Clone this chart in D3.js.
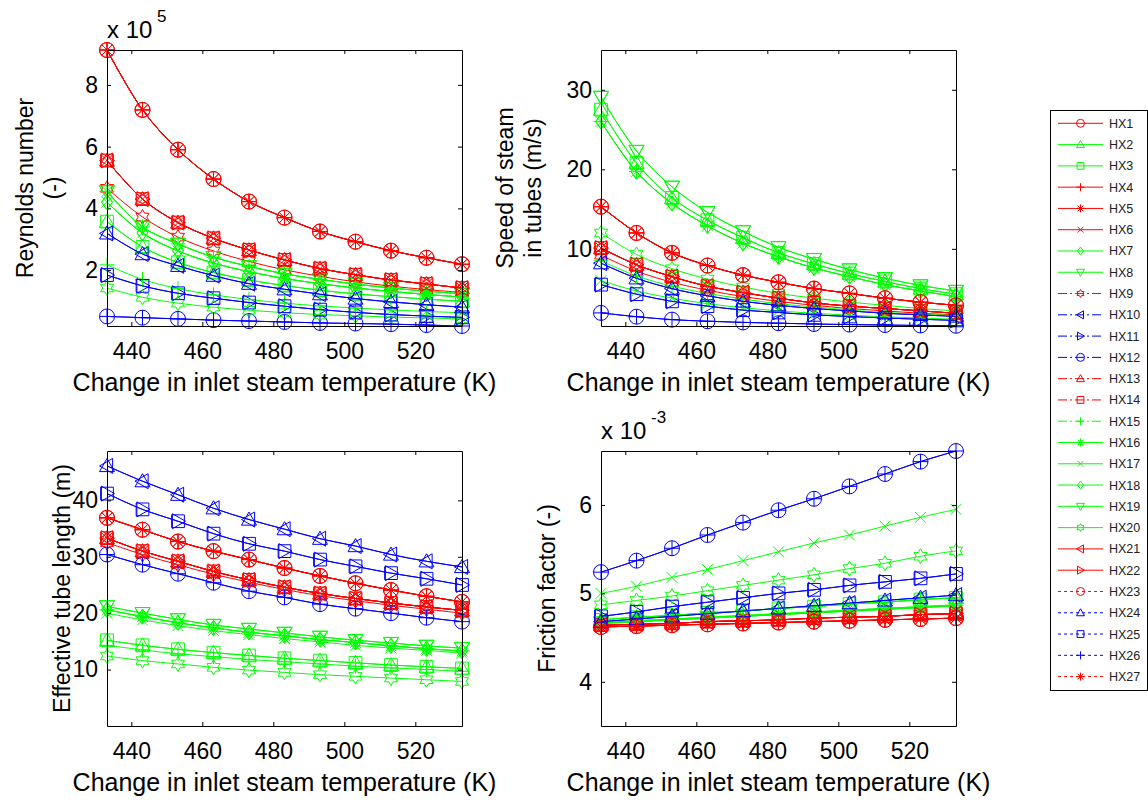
<!DOCTYPE html>
<html>
<head>
<meta charset="utf-8">
<script src="https://cdn.jsdelivr.net/npm/d3@7/dist/d3.min.js"></script>
<style>
  body { margin: 0; background: #fff; }
  svg { font-family: Arial, "Liberation Sans", Helvetica, sans-serif; }
</style>
</head>
<body>
<div id="main"></div>
<script>
// inlet steam temperature (K)
const temps = [433.15, 443.15, 453.15, 463.15, 473.15, 483.15, 493.15, 503.15, 513.15, 523.15, 533.15];
const xTicks = [440, 460, 480, 500, 520];
const names = ['HX1', 'HX2', 'HX3', 'HX4', 'HX5', 'HX6', 'HX7', 'HX8', 'HX9', 'HX10', 'HX11', 'HX12', 'HX13', 'HX14',
    'HX15', 'HX16', 'HX17', 'HX18', 'HX19', 'HX20', 'HX21', 'HX22', 'HX23', 'HX24', 'HX25', 'HX26', 'HX27'];

// Reynolds number (x 10^5)
const reR1 = [9.13, 7.19, 5.90, 4.95, 4.22, 3.70, 3.25, 2.92, 2.63, 2.40, 2.19];
const reR2 = [5.55, 4.30, 3.54, 3.03, 2.65, 2.33, 2.05, 1.85, 1.68, 1.55, 1.42];
const reR3 = [4.65, 3.72, 3.07, 2.62, 2.28, 2.01, 1.80, 1.62, 1.48, 1.37, 1.28];
const reG1 = [4.55, 3.40, 2.85, 2.42, 2.12, 1.88, 1.70, 1.55, 1.42, 1.32, 1.23];
const reG2 = [4.20, 3.20, 2.62, 2.23, 1.95, 1.73, 1.56, 1.42, 1.31, 1.21, 1.13];
const reG3 = [3.57, 2.75, 2.25, 1.92, 1.68, 1.50, 1.35, 1.23, 1.14, 1.06, 0.99];
const reG4 = [2.17, 1.70, 1.40, 1.20, 1.05, 0.93, 0.84, 0.77, 0.71, 0.66, 0.62];
const reG5 = [1.42, 1.12, 0.93, 0.80, 0.70, 0.62, 0.56, 0.52, 0.48, 0.45, 0.42];
const reB1 = [3.19, 2.52, 2.14, 1.82, 1.56, 1.38, 1.22, 1.08, 0.97, 0.88, 0.80];
const reB2 = [1.84, 1.49, 1.25, 1.09, 0.95, 0.83, 0.72, 0.63, 0.56, 0.51, 0.47];
const reB3 = [0.50, 0.46, 0.42, 0.38, 0.35, 0.32, 0.29, 0.27, 0.25, 0.22, 0.19];
const reynoldsBySeries = [reR1, reG3, reG3, reR1, reR1, reR2, reG2, reG1, reR3, reB1, reB2, reB3, reR2, reR2,
    reG4, reG1, reG2, reG2, reG1, reG5, reR2, reR2, reR1, reB1, reB2, reB3, reR1];
const reynoldsTicks = [2, 4, 6, 8];

// speed of steam in tubes (m/s)
const spR1 = [15.3, 12.0, 9.5, 7.9, 6.7, 5.8, 5.0, 4.4, 3.8, 3.3, 2.9];
const spR2 = [10.1, 8.0, 6.5, 5.3, 4.5, 3.8, 3.2, 2.8, 2.5, 2.2, 1.9];
const spR3 = [9.2, 7.2, 5.8, 4.8, 4.0, 3.4, 2.9, 2.5, 2.2, 1.9, 1.7];
const spG1 = [29.1, 22.3, 17.8, 14.6, 12.2, 10.2, 8.7, 7.4, 6.3, 5.4, 4.7];
const spG2 = [27.5, 20.8, 16.4, 13.6, 11.4, 9.5, 8.1, 6.9, 5.9, 5.0, 4.3];
const spG3 = [26.0, 19.7, 15.7, 12.9, 10.7, 9.0, 7.6, 6.5, 5.5, 4.7, 4.0];
const spG4 = [12.0, 9.3, 7.5, 6.2, 5.2, 4.4, 3.8, 3.3, 2.9, 2.5, 2.2];
const spG5 = [8.5, 6.6, 5.3, 4.4, 3.7, 3.1, 2.7, 2.3, 2.0, 1.8, 1.6];
const spG6 = [6.0, 4.7, 3.8, 3.1, 2.6, 2.2, 1.9, 1.65, 1.45, 1.3, 1.15];
const spB1 = [8.2, 6.3, 5.0, 4.1, 3.4, 2.9, 2.5, 2.2, 1.9, 1.7, 1.5];
const spB2 = [5.5, 4.3, 3.4, 2.8, 2.3, 2.0, 1.7, 1.5, 1.3, 1.15, 1.0];
const spB3 = [1.95, 1.47, 1.1, 0.9, 0.75, 0.65, 0.55, 0.48, 0.42, 0.37, 0.33];
const speedBySeries = [spR1, spG2, spG2, spR1, spR1, spR2, spG3, spG1, spR3, spB1, spB2, spB3, spR2, spR2,
    spG5, spG3, spG6, spG3, spG1, spG4, spR2, spR2, spR1, spB1, spB2, spB3, spR1];
const speedTicks = [10, 20, 30];

// effective tube length (m)
const tlR1 = [36.9, 34.8, 32.7, 31.0, 29.5, 28.0, 26.6, 25.3, 24.1, 23.0, 22.0];
const tlR2 = [33.3, 31.0, 29.2, 27.4, 25.9, 24.6, 23.5, 22.6, 21.8, 21.1, 20.5];
const tlR3 = [32.5, 30.4, 28.6, 26.9, 25.5, 24.2, 23.1, 22.2, 21.4, 20.7, 20.0];
const tlG1 = [21.2, 20.0, 18.9, 17.9, 17.2, 16.5, 15.8, 15.2, 14.7, 14.2, 13.8];
const tlG2 = [20.6, 19.4, 18.3, 17.4, 16.6, 16.0, 15.3, 14.8, 14.2, 13.7, 13.3];
const tlG3 = [20.0, 18.8, 17.8, 16.9, 16.2, 15.5, 14.9, 14.3, 13.8, 13.4, 12.9];
const tlG4 = [15.2, 14.3, 13.6, 13.0, 12.5, 12.0, 11.6, 11.2, 10.8, 10.5, 10.2];
const tlG5 = [14.3, 13.5, 12.8, 12.3, 11.8, 11.4, 11.0, 10.6, 10.3, 10.0, 9.7];
const tlG6 = [12.4, 11.6, 11.0, 10.4, 9.9, 9.5, 9.1, 8.8, 8.5, 8.2, 7.9];
const tlB1 = [46.1, 43.4, 41.0, 38.6, 36.6, 34.9, 33.2, 31.9, 30.4, 29.2, 28.2];
const tlB2 = [41.2, 38.4, 36.3, 34.1, 32.3, 31.0, 29.5, 28.3, 27.1, 26.1, 25.0];
const tlB3 = [30.4, 28.6, 27.0, 25.4, 23.9, 22.8, 21.6, 20.8, 20.0, 19.2, 18.5];
const lengthBySeries = [tlR1, tlG4, tlG4, tlR1, tlR1, tlR2, tlG2, tlG1, tlR3, tlB1, tlB2, tlB3, tlR2, tlR2,
    tlG5, tlG2, tlG3, tlG2, tlG1, tlG6, tlR2, tlR2, tlR1, tlB1, tlB2, tlB3, tlR1];
const lengthTicks = [10, 20, 30, 40];

// friction factor (x 10^-3)
const ffR1 = [4.62, 4.63, 4.64, 4.65, 4.66, 4.67, 4.68, 4.69, 4.70, 4.71, 4.72];
const ffR2 = [4.64, 4.65, 4.66, 4.68, 4.69, 4.70, 4.72, 4.73, 4.74, 4.76, 4.77];
const ffG1 = [4.67, 4.69, 4.71, 4.73, 4.75, 4.77, 4.79, 4.81, 4.83, 4.85, 4.87];
const ffG2 = [4.66, 4.68, 4.70, 4.72, 4.74, 4.76, 4.78, 4.80, 4.82, 4.84, 4.86];
const ffG4 = [4.70, 4.73, 4.75, 4.78, 4.80, 4.83, 4.85, 4.88, 4.90, 4.93, 4.95];
const ffG5 = [4.87, 4.92, 4.97, 5.03, 5.09, 5.15, 5.21, 5.28, 5.34, 5.42, 5.48];
const ffG6 = [5.00, 5.08, 5.18, 5.27, 5.37, 5.47, 5.57, 5.66, 5.76, 5.86, 5.95];
const ffB1 = [4.68, 4.71, 4.74, 4.77, 4.80, 4.83, 4.86, 4.89, 4.92, 4.95, 4.98];
const ffB2 = [4.74, 4.79, 4.85, 4.90, 4.95, 5.00, 5.04, 5.09, 5.13, 5.17, 5.22];
const ffB3 = [5.24, 5.37, 5.51, 5.66, 5.80, 5.94, 6.07, 6.21, 6.35, 6.49, 6.61];
const frictionBySeries = [ffR1, ffG4, ffG4, ffR1, ffR1, ffR2, ffG2, ffG1, ffR2, ffB1, ffB2, ffB3, ffR2, ffR2,
    ffG4, ffG2, ffG6, ffG2, ffG1, ffG5, ffR2, ffR2, ffR1, ffB1, ffB2, ffB3, ffR1];
const frictionTicks = [4, 5, 6];

// styles (matlab 'r', 'g', 'b')
const R = '#ff0000', G = '#00ff00', B = '#0000ff';
const seriesColor = [R, G, G, R, R, R, G, G, R, B, B, B, R, R, G, G, G, G, G, G, R, R, R, B, B, B, R];
const seriesMarker = ['o', '^', 's', '+', '*', 'x', 'd', 'v', 'h', '<', '>', 'o', '^', 's',
    '+', '*', 'x', 'd', 'v', 'h', '<', '>', 'o', '^', 's', '+', '*'];
const seriesDash = ['-', '-', '-', '-', '-', '-', '-', '-', '-.', '-.', '-.', '-.', '-.', '-.',
    '-.', '-', '-', '-', '-', '-', '-', '-', ':', ':', ':', ':', ':'];
const dashArray = { '-': null, '-.': '9,3,2,3', ':': '3,3' };

function markerPath(m, s) {
    let k;
    switch (m) {
        case 'o': return `M${s},0A${s},${s} 0 1,1 ${-s},0A${s},${s} 0 1,1 ${s},0Z`;
        case '^': return `M0,${-s}L${s},${s * 0.75}L${-s},${s * 0.75}Z`;
        case 'v': return `M0,${s}L${s},${-s * 0.75}L${-s},${-s * 0.75}Z`;
        case '<': return `M${-s},0L${s * 0.75},${-s}L${s * 0.75},${s}Z`;
        case '>': return `M${s},0L${-s * 0.75},${-s}L${-s * 0.75},${s}Z`;
        case 's': k = s * 0.85; return `M${-k},${-k}H${k}V${k}H${-k}Z`;
        case 'd': return `M0,${-s}L${s * 0.72},0L0,${s}L${-s * 0.72},0Z`;
        case '+': return `M${-s},0H${s}M0,${-s}V${s}`;
        case 'x': k = s * 0.72; return `M${-k},${-k}L${k},${k}M${-k},${k}L${k},${-k}`;
        case '*': k = s * 0.72; return `M${-s},0H${s}M0,${-s}V${s}M${-k},${-k}L${k},${k}M${-k},${k}L${k},${-k}`;
        case 'h': {
            let pts = d3.range(12).map(i => {
                let a = -Math.PI / 2 + i * Math.PI / 6;
                let r = i % 2 === 0 ? s : s * 0.577;
                return [r * Math.cos(a), r * Math.sin(a)];
            });
            return 'M' + pts.map(p => p[0].toFixed(2) + ',' + p[1].toFixed(2)).join('L') + 'Z';
        }
    }
}

const panels = [
    { box: [107, 50, 462, 326], yDomain: [0.19, 9.13], yTicks: reynoldsTicks, bySeries: reynoldsBySeries,
      ylabel: ['Reynolds number', '(-)'], labelX: [33, 61], exp: '5' },
    { box: [601, 50, 956, 326], yDomain: [0.3, 35], yTicks: speedTicks, bySeries: speedBySeries,
      ylabel: ['Speed of steam', 'in tubes (m/s)'], labelX: [513, 541] },
    { box: [107, 451, 462, 726], yDomain: [0, 48.75], yTicks: lengthTicks, bySeries: lengthBySeries,
      ylabel: ['Effective tube length (m)'], labelX: [70] },
    { box: [601, 451, 956, 726], yDomain: [3.5, 6.61], yTicks: frictionTicks, bySeries: frictionBySeries,
      ylabel: ['Friction factor (-)'], labelX: [555], exp: '-3' }
];

const svg = d3.select('#main').append('svg').attr('width', 1148).attr('height', 804);

function styleAxis(sel) {
    sel.attr('font-size', 23).attr('font-family', 'Arial, "Liberation Sans", sans-serif');
    sel.selectAll('text').attr('fill', '#000');
    sel.selectAll('path.domain, line').attr('stroke', '#000');
}

panels.forEach(p => {
    let [x0, y0, x1, y1] = p.box;
    let x = d3.scaleLinear().domain([433.15, 533.15]).range([x0, x1]);
    let y = d3.scaleLinear().domain(p.yDomain).range([y1, y0]);

    let g = svg.append('g');

    // series
    let line = d3.line().x((d, i) => x(temps[i])).y(d => y(d)).curve(d3.curveCatmullRom);
    names.forEach((n, si) => {
        let vals = p.bySeries[si];
        let sg = g.append('g');
        sg.append('path')
            .attr('d', line(vals))
            .attr('fill', 'none')
            .attr('stroke', seriesColor[si])
            .attr('stroke-width', 1);
        sg.selectAll('path.mk')
            .data(vals)
            .enter()
            .append('path')
            .attr('class', 'mk')
            .attr('d', markerPath(seriesMarker[si], 7.5))
            .attr('transform', (d, i) => `translate(${x(temps[i])},${y(d)})`)
            .attr('fill', 'none')
            .attr('stroke', seriesColor[si])
            .attr('stroke-width', 1);
    });

    // axes (ticks inside, box on)
    let fmt = d3.format('d');
    g.append('g').attr('transform', `translate(0,${y1})`)
        .call(d3.axisBottom(x).tickValues(xTicks).tickFormat(fmt).tickSizeInner(-4).tickSizeOuter(0).tickPadding(17))
        .call(styleAxis);
    g.append('g').attr('transform', `translate(0,${y0})`)
        .call(d3.axisTop(x).tickValues(xTicks).tickSizeInner(-4).tickSizeOuter(0).tickFormat(''))
        .call(styleAxis);
    g.append('g').attr('transform', `translate(${x0},0)`)
        .call(d3.axisLeft(y).tickValues(p.yTicks).tickFormat(fmt).tickSizeInner(-4).tickSizeOuter(0).tickPadding(9))
        .call(styleAxis);
    g.append('g').attr('transform', `translate(${x1},0)`)
        .call(d3.axisRight(y).tickValues(p.yTicks).tickSizeInner(-4).tickSizeOuter(0).tickFormat(''))
        .call(styleAxis);

    // x label
    g.append('text')
        .attr('x', (x0 + x1) / 2)
        .attr('y', y1 + 65)
        .attr('text-anchor', 'middle')
        .attr('font-size', 25)
        .text('Change in inlet steam temperature (K)');

    // y label
    p.ylabel.forEach((t, i) => {
        g.append('text')
            .attr('transform', `translate(${p.labelX[i]},${(y0 + y1) / 2}) rotate(-90)`)
            .attr('text-anchor', 'middle')
            .attr('font-size', 23)
            .text(t);
    });

    // exponent
    if (p.exp) {
        g.append('text').attr('x', x0).attr('y', y0 - 12).attr('font-size', 24).text('x 10');
        g.append('text').attr('x', x0 + 50).attr('y', y0 - 28).attr('font-size', 17).text(p.exp);
    }
});

// legend
const leg = svg.append('g');
leg.append('rect')
    .attr('x', 1050.5).attr('y', 110.5).attr('width', 97).attr('height', 580)
    .attr('fill', '#fff').attr('stroke', '#000').attr('stroke-width', 1);
const legY = d3.scaleLinear().domain([0, 26]).range([123.3, 676.6]);
names.forEach((n, i) => {
    let ly = legY(i);
    leg.append('line')
        .attr('x1', 1058).attr('x2', 1103).attr('y1', ly).attr('y2', ly)
        .attr('stroke', seriesColor[i]).attr('stroke-width', 1)
        .attr('stroke-dasharray', dashArray[seriesDash[i]]);
    leg.append('path')
        .attr('d', markerPath(seriesMarker[i], 4))
        .attr('transform', `translate(1080.5,${ly})`)
        .attr('fill', 'none').attr('stroke', seriesColor[i]).attr('stroke-width', 1);
    leg.append('text')
        .attr('x', 1109).attr('y', ly + 4.5)
        .attr('font-size', 12.5)
        .attr('fill', '#222')
        .text(n);
});
</script>
</body>
</html>
